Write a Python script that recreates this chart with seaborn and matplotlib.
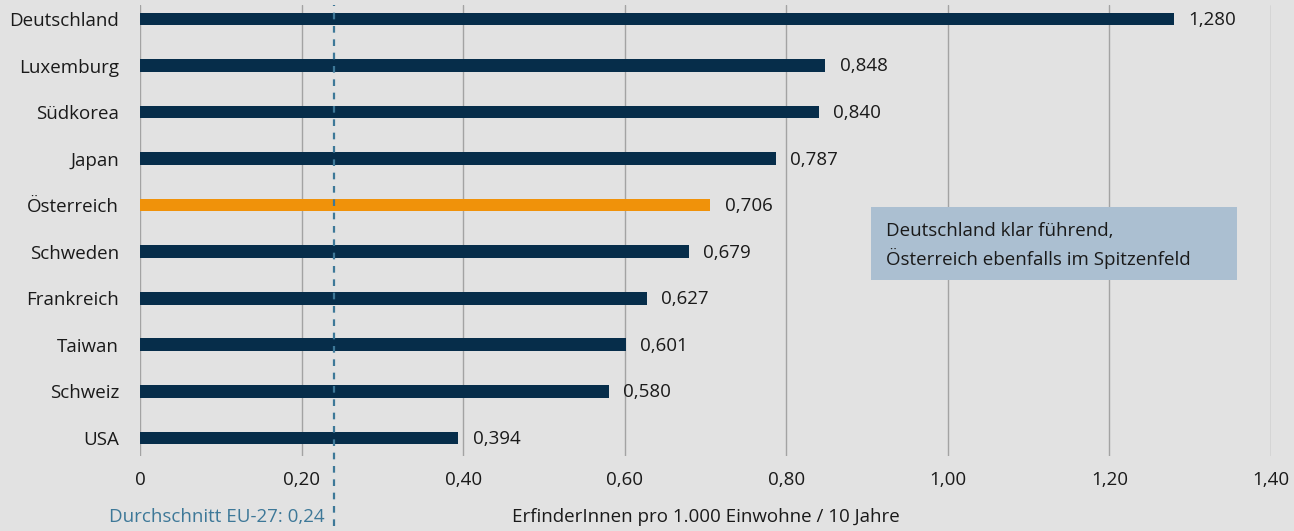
import matplotlib
matplotlib.use("Agg")
import matplotlib.pyplot as plt
import matplotlib.patches as mpatches
import seaborn as sns
import pandas as pd

countries = ["Deutschland", "Luxemburg", "Südkorea", "Japan", "Österreich",
             "Schweden", "Frankreich", "Taiwan", "Schweiz", "USA"]
values = [1.280, 0.848, 0.840, 0.787, 0.706, 0.679, 0.627, 0.601, 0.580, 0.394]
highlight = "Österreich"
eu_avg = 0.24
xticks = [0, 0.2, 0.4, 0.6, 0.8, 1.0, 1.2, 1.4]
xticklabels = ["0", "0,20", "0,40", "0,60", "0,80", "1,00", "1,20", "1,40"]

BG = "#e2e2e2"
NAVY = "#062d4a"
ORANGE = "#f0920a"
AVG = "#3d7898"
FS = 13.5

sns.set_theme(style="white")
plt.rcParams["font.family"] = ["Open Sans", "DejaVu Sans"]

df = pd.DataFrame({"land": countries, "wert": values})
palette = {c: (ORANGE if c == highlight else NAVY) for c in countries}

fig = plt.figure(figsize=(12.94, 5.31), dpi=100, facecolor=BG)
ax = fig.add_axes([0.1082, 0.1412, 0.874, 0.8494])
ax.set_facecolor(BG)

sns.barplot(data=df, x="wert", y="land", hue="land", palette=palette,
            width=0.27, legend=False, orient="h", saturation=1, linewidth=0, ax=ax)

ax.set_xlim(0, 1.4)
ax.set_ylim(9.39, -0.3)
ax.set_xticks(xticks)
ax.set_xticklabels(xticklabels)
ax.grid(axis="x", color="#a3a3a3", linewidth=1)
ax.set_axisbelow(True)
for s in ax.spines.values():
    s.set_visible(False)
ax.tick_params(axis="x", length=0, pad=11, labelsize=FS, colors="#1a1a1a")
ax.tick_params(axis="y", length=0, pad=15, labelsize=FS, colors="#1a1a1a")
ax.set_xlabel("")
ax.set_ylabel("")

# value labels
for i, v in enumerate(values):
    ax.text(v + 0.018, i + 0.02, f"{v:.3f}".replace(".", ","), va="center", ha="left",
            fontsize=FS, color="#1a1a1a")

# EU average dashed line, running below the axis
ax.axvline(eu_avg, ymin=-0.155, ymax=1.0, color=AVG, linewidth=1.6,
           linestyle=(0, (3, 3)), clip_on=False, zorder=3)
ax.text(eu_avg - 0.012, -0.135, "Durchschnitt EU-27: 0,24", transform=ax.get_xaxis_transform(),
        ha="right", va="center", fontsize=FS, color=AVG)
ax.text(0.5, -0.135, "ErfinderInnen pro 1.000 Einwohne / 10 Jahre", transform=ax.transAxes,
        ha="center", va="center", fontsize=FS, color="#1a1a1a")

# annotation box
ax.add_patch(mpatches.Rectangle((0.9047, 4.04), 0.453, 1.57, facecolor="#abbfd1",
                                edgecolor="none", zorder=4))
ax.text(0.923, 4.86, "Deutschland klar führend,\nÖsterreich ebenfalls im Spitzenfeld",
        ha="left", va="center", fontsize=FS, color="#1a1a1a", linespacing=1.45,
        zorder=5)

fig.savefig("out.png", dpi=100, facecolor=BG)
